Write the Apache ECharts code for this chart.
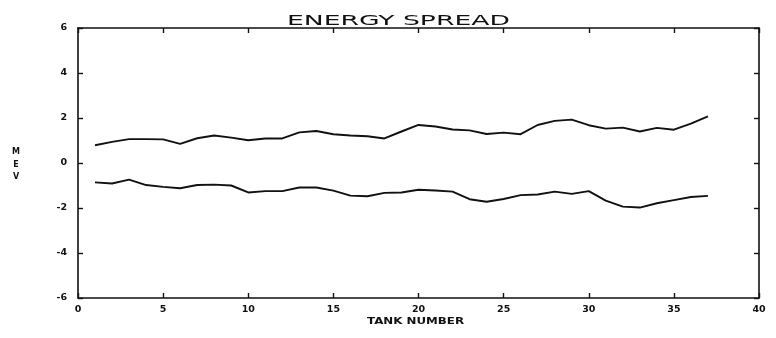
<!DOCTYPE html>
<html>
<head>
<meta charset="utf-8">
<title>Energy Spread</title>
<script src="https://cdn.jsdelivr.net/npm/echarts@6/dist/echarts.min.js"></script>
<style>
  html, body { margin: 0; padding: 0; background: #fff; }
  #chart { width: 776px; height: 338px; }
</style>
</head>
<body>
<div id="chart"></div>
<script>
// Tank numbers along the linac
const tanks = [1,2,3,4,5,6,7,8,9,10,11,12,13,14,15,16,17,18,19,20,21,22,23,24,25,26,27,28,29,30,31,32,33,34,35,36,37];

// Upper and lower edges of the energy spread (MeV)
const upperSpread = [0.79,0.94,1.06,1.06,1.05,0.85,1.10,1.22,1.13,1.01,1.09,1.09,1.36,1.42,1.28,1.22,1.19,1.09,1.40,1.69,1.62,1.49,1.45,1.29,1.35,1.28,1.69,1.87,1.93,1.68,1.53,1.57,1.40,1.56,1.48,1.75,2.07];
const lowerSpread = [-0.86,-0.91,-0.74,-0.98,-1.06,-1.12,-0.98,-0.96,-1.00,-1.31,-1.25,-1.25,-1.09,-1.09,-1.23,-1.45,-1.48,-1.33,-1.31,-1.19,-1.22,-1.27,-1.61,-1.72,-1.60,-1.43,-1.40,-1.27,-1.37,-1.25,-1.67,-1.94,-1.98,-1.79,-1.65,-1.51,-1.46];

// Axis ranges and tick steps
const xTicks = [0,5,10,15,20,25,30,35,40];
const yTicks = [-6,-4,-2,0,2,4,6];

const titleText = 'ENERGY SPREAD';
const xName = 'TANK NUMBER';
const yName = 'MEV';

const ink = '#111';
const labelFont = { color: ink, fontSize: 9.5, fontWeight: 'bold', fontFamily: 'DejaVu Sans' };

const chart = echarts.init(document.getElementById('chart'), null, { renderer: 'canvas' });

const frameAxis = {
  axisLine: { show: true, onZero: false, lineStyle: { color: ink, width: 1.6 } },
  axisTick: { show: true, inside: true, length: 5, lineStyle: { color: ink, width: 1.4 } },
  splitLine: { show: false }
};

chart.setOption({
  animation: false,
  backgroundColor: '#fff',
  grid: { left: 78, right: 17, top: 28, bottom: 40 },
  xAxis: [
    Object.assign({
      type: 'value', position: 'bottom',
      min: xTicks[0], max: xTicks[xTicks.length - 1], interval: 5,
      axisLabel: Object.assign({ margin: 7 }, labelFont)
    }, frameAxis),
    Object.assign({
      type: 'value', position: 'top',
      min: xTicks[0], max: xTicks[xTicks.length - 1], interval: 5,
      axisLabel: { show: false }
    }, frameAxis)
  ],
  yAxis: [
    Object.assign({
      type: 'value', position: 'left',
      min: yTicks[0], max: yTicks[yTicks.length - 1], interval: 2,
      axisLabel: Object.assign({ margin: 11 }, labelFont)
    }, frameAxis),
    Object.assign({
      type: 'value', position: 'right',
      min: yTicks[0], max: yTicks[yTicks.length - 1], interval: 2,
      axisLabel: { show: false }
    }, frameAxis)
  ],
  series: [
    {
      type: 'line', xAxisIndex: 0, yAxisIndex: 0,
      data: tanks.map((t, i) => [t, upperSpread[i]]),
      showSymbol: false, symbol: 'none',
      lineStyle: { color: ink, width: 1.9 }
    },
    {
      type: 'line', xAxisIndex: 0, yAxisIndex: 0,
      data: tanks.map((t, i) => [t, lowerSpread[i]]),
      showSymbol: false, symbol: 'none',
      lineStyle: { color: ink, width: 1.9 }
    }
  ],
  graphic: [
    {
      type: 'text', x: 287, y: 14, scaleX: 1.9,
      style: {
        text: titleText, fill: ink, fontSize: 14,
        fontFamily: 'DejaVu Sans', fontWeight: 'normal',
        align: 'left', verticalAlign: 'top'
      }
    },
    {
      type: 'text', x: 367, y: 318, scaleX: 1.48,
      style: {
        text: xName, fill: ink, fontSize: 8,
        fontFamily: 'DejaVu Sans', fontWeight: 'bold',
        align: 'left', verticalAlign: 'top'
      }
    },
    {
      type: 'text', x: 16, y: 146,
      style: {
        text: yName.split('').join('\n'), fill: ink, fontSize: 8,
        lineHeight: 12.5,
        fontFamily: 'DejaVu Sans', fontWeight: 'bold',
        align: 'center', verticalAlign: 'top'
      }
    }
  ]
});
</script>
</body>
</html>
